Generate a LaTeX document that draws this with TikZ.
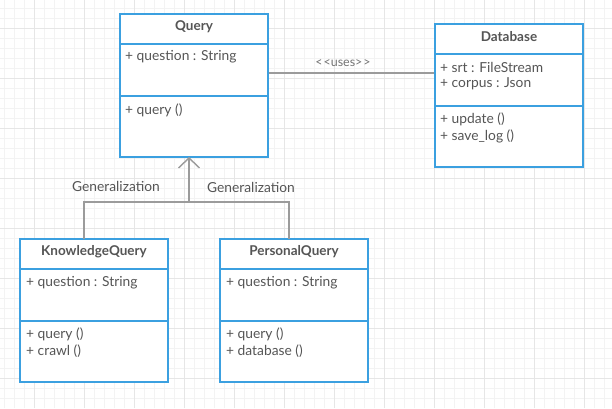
\documentclass[tikz,border=0pt]{standalone}
\usepackage{fontspec}
\setmainfont{Lato}
\usetikzlibrary{arrows.meta,calc}
\definecolor{boxblue}{RGB}{59,160,224}
\definecolor{txt}{RGB}{85,85,85}
\definecolor{lighttxt}{RGB}{115,115,115}
\definecolor{conn}{RGB}{155,155,155}
\definecolor{gminor}{RGB}{243,243,243}
\definecolor{gmajor}{RGB}{230,230,230}
\begin{document}
\begin{tikzpicture}[x=1pt,y=-1pt,
  classbox/.style={draw=boxblue,line width=1.6pt,fill=white,rectangle,inner sep=0pt,minimum width=148pt,minimum height=143pt},
  divider/.style={draw=boxblue,line width=1.6pt},
  head/.style={font=\fontsize{13.5}{15}\selectfont\bfseries,text=txt,inner sep=0pt},
  member/.style={font=\fontsize{13.8}{15}\selectfont,text=txt,inner sep=0pt,anchor=west},
  conline/.style={draw=conn,line width=1.4pt},
  lbl/.style={font=\fontsize{13.8}{15}\selectfont,text=txt,inner sep=0pt},
  smalllbl/.style={font=\fontsize{12.5}{14}\selectfont,text=lighttxt,inner sep=0pt}
]
\useasboundingbox (0,0) rectangle (612,408);
\fill[white] (0,0) rectangle (612,408);
\foreach \x in {4,14,...,604} \draw[gminor,line width=0.8pt] (\x,0) -- (\x,408);
\foreach \y in {8,18,...,398} \draw[gminor,line width=0.8pt] (0,\y) -- (612,\y);
\foreach \x in {34,84,...,584} \draw[gmajor,line width=0.8pt] (\x,0) -- (\x,408);
\foreach \y in {28,78,...,378} \draw[gmajor,line width=0.8pt] (0,\y) -- (612,\y);

% Query
\node[classbox] (query) at (194,85.5) {};
\draw[divider] ($(query.north west)+(0,31)$) -- ($(query.north east)+(0,31)$);
\draw[divider] ($(query.north west)+(0,83)$) -- ($(query.north east)+(0,83)$);
\node[head] (queryh) at ($(query.north)+(0,13)$) {Query};
\node[member] (querya) at (125,57) {+ question : String};
\node[member] (querym) at (125,110) {+ query ()};

% Database
\node[classbox] (db) at (509,95.5) {};
\draw[divider] ($(db.north west)+(0,31)$) -- ($(db.north east)+(0,31)$);
\draw[divider] ($(db.north west)+(0,83)$) -- ($(db.north east)+(0,83)$);
\node[head] (dbh) at ($(db.north)+(0,13)$) {Database};
\node[member] (dba1) at (440,67) {+ srt : FileStream};
\node[member] (dba2) at (440,84) {+ corpus : Json};
\node[member] (dbm1) at (440,119) {+ update ()};
\node[member] (dbm2) at (440,136) {+ save\_log ()};

% KnowledgeQuery
\node[classbox] (kq) at (94,310.5) {};
\draw[divider] ($(kq.north west)+(0,31)$) -- ($(kq.north east)+(0,31)$);
\draw[divider] ($(kq.north west)+(0,83)$) -- ($(kq.north east)+(0,83)$);
\node[head] (kqh) at ($(kq.north)+(0,13)$) {KnowledgeQuery};
\node[member] (kqa) at (26,283) {+ question : String};
\node[member] (kqm1) at (26,334) {+ query ()};
\node[member] (kqm2) at (26,351) {+ crawl ()};

% PersonalQuery
\node[classbox] (pq) at (294,310.5) {};
\draw[divider] ($(pq.north west)+(0,31)$) -- ($(pq.north east)+(0,31)$);
\draw[divider] ($(pq.north west)+(0,83)$) -- ($(pq.north east)+(0,83)$);
\node[head] (pqh) at ($(pq.north)+(0,13)$) {PersonalQuery};
\node[member] (pqa) at (226,283) {+ question : String};
\node[member] (pqm1) at (226,334) {+ query ()};
\node[member] (pqm2) at (226,351) {+ database ()};

% uses association
\coordinate (usesA) at (query.east |- 0,73);
\coordinate (usesB) at (db.west |- 0,73);
\draw[conline,line width=1.2pt] (usesA) -- (usesB);
\node[smalllbl] (useslbl) at (343,63) {<\kern1pt<uses>\kern1pt>};

% generalization
\coordinate (qbot) at (189,157);
\coordinate (junc) at (189,202);
\coordinate (kqtop) at (84,239);
\coordinate (pqtop) at (289,239);
\draw[conline] (kqtop) |- (junc) -| (pqtop);
\draw[conline,-{Straight Barb[length=10pt,width=21pt,line width=1.4pt]}] (junc) -- (qbot);
\node[lbl] (gen1) at (116,186) {Generalization};
\node[lbl] (gen2) at (251,187) {Generalization};
\end{tikzpicture}
\end{document}
